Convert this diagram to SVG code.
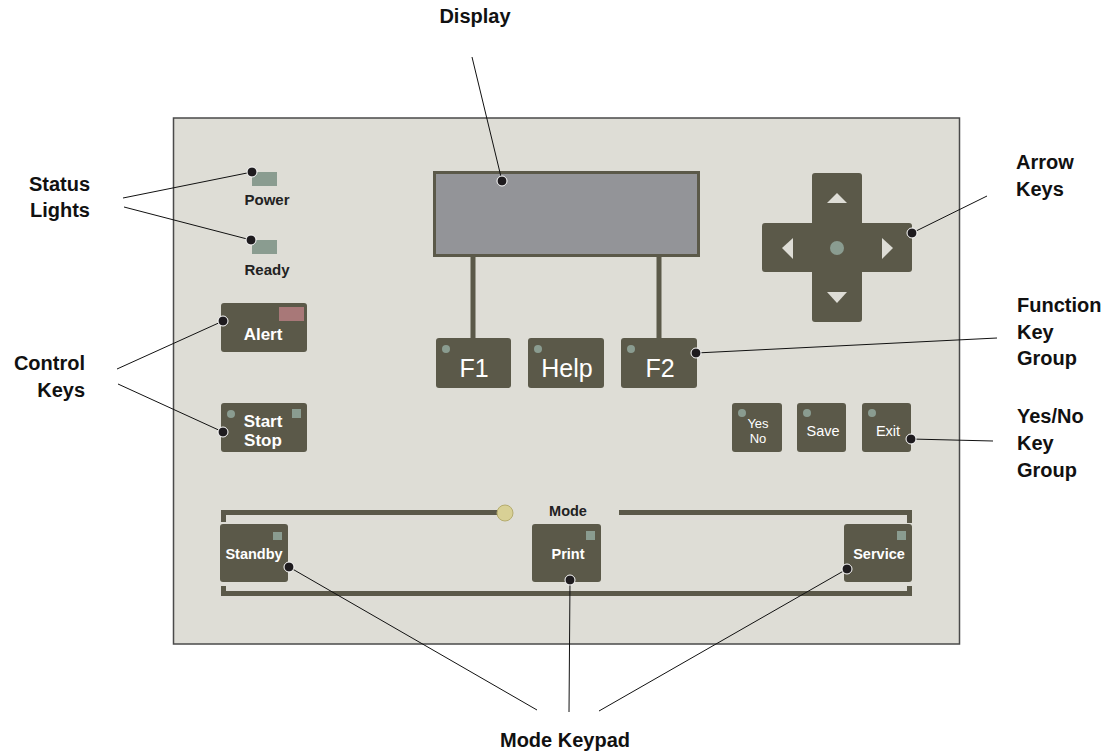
<svg xmlns="http://www.w3.org/2000/svg" width="1113" height="754" viewBox="0 0 1113 754">
<defs>
<style>
.lbl{font-family:"Liberation Sans",Arial,sans-serif;font-weight:bold;font-size:20px;fill:#111}
.key{fill:#5B5949}
.kt{font-family:"Liberation Sans",Arial,sans-serif;fill:#fff;text-anchor:middle}
.b{font-weight:bold}
.led{fill:#8A9C90}
.bar{fill:none;stroke:#5B5949;stroke-width:5}
.lead{fill:none;stroke:#111;stroke-width:1}
.dot{fill:#1E1B1E;stroke:#fff;stroke-width:1}
.pt{font-family:"Liberation Sans",Arial,sans-serif;font-weight:bold;fill:#222;text-anchor:middle}
</style>
</defs>
<rect width="1113" height="754" fill="#fff"/>
<g id="panel">
<rect x="173.5" y="118" width="786" height="526" fill="#DEDDD6" stroke="#4A4A4A" stroke-width="1.5"/>
</g>
<g id="status-lights">
<rect class="led" x="252" y="172" width="25" height="14"/>
<text class="pt" x="267" y="205" font-size="15">Power</text>
<rect class="led" x="252" y="240" width="25" height="14"/>
<text class="pt" x="267" y="275" font-size="15">Ready</text>
</g>
<g id="alert-key">
<rect class="key" x="221" y="303" width="86" height="49" rx="3"/>
<rect x="279" y="307" width="25" height="14" fill="#A87878"/>
<text class="kt b" x="263" y="340" font-size="17">Alert</text>
</g>
<g id="start-stop-key">
<rect class="key" x="221" y="403" width="86" height="49" rx="3"/>
<circle class="led" cx="231" cy="414" r="4"/>
<rect class="led" x="292" y="409" width="9" height="9"/>
<text class="kt b" x="263" y="427" font-size="17">Start</text>
<text class="kt b" x="263" y="446" font-size="17">Stop</text>
</g>
<g id="display">
<rect x="434.5" y="172.5" width="264" height="83" fill="#939498" stroke="#5B5949" stroke-width="3"/>
<line x1="473" y1="256" x2="473" y2="340" stroke="#5B5949" stroke-width="5"/>
<line x1="659" y1="256" x2="659" y2="340" stroke="#5B5949" stroke-width="5"/>
</g>
<g id="function-keys">
<rect class="key" x="436" y="338" width="75" height="50" rx="3"/>
<circle class="led" cx="446" cy="349" r="4"/>
<text class="kt" x="474" y="377" font-size="25">F1</text>
<rect class="key" x="528" y="338" width="76" height="50" rx="3"/>
<circle class="led" cx="538" cy="349" r="4"/>
<text class="kt" x="567" y="377" font-size="25">Help</text>
<rect class="key" x="621" y="338" width="76" height="50" rx="3"/>
<circle class="led" cx="631" cy="349" r="4"/>
<text class="kt" x="660" y="377" font-size="25">F2</text>
</g>
<g id="arrow-keys">
<rect class="key" x="812" y="173" width="50" height="149" rx="3"/>
<rect class="key" x="762" y="223" width="150" height="49" rx="3"/>
<circle class="led" cx="837" cy="248" r="7"/>
<polygon points="837,193 827,203 847,203" fill="#DEDDD6"/>
<polygon points="837,303 827,292 847,292" fill="#DEDDD6"/>
<polygon points="782,248 793,238 793,259" fill="#DEDDD6"/>
<polygon points="893,248 882,238 882,259" fill="#DEDDD6"/>
</g>
<g id="yes-no-keys">
<rect class="key" x="732" y="403" width="50" height="49" rx="3"/>
<circle class="led" cx="742" cy="413" r="4"/>
<text class="kt" x="758" y="428" font-size="13">Yes</text>
<text class="kt" x="758" y="443" font-size="13">No</text>
<rect class="key" x="797" y="403" width="49" height="49" rx="3"/>
<circle class="led" cx="807" cy="413" r="4"/>
<text class="kt" x="823" y="436" font-size="14.5">Save</text>
<rect class="key" x="862" y="403" width="49" height="49" rx="3"/>
<circle class="led" cx="872" cy="413" r="4"/>
<text class="kt" x="888" y="436" font-size="14.5">Exit</text>
</g>
<g id="mode-keypad">
<path class="bar" d="M223.5,522 V512.5 H500"/>
<path class="bar" d="M619,512.5 H909.5 V523"/>
<path class="bar" d="M223.5,586 V593.5 H909.5 V586"/>
<circle cx="505" cy="513" r="8" fill="#D8D095" stroke="#B5AC6E" stroke-width="1"/>
<text class="pt" x="568" y="516" font-size="14.5">Mode</text>
<rect class="key" x="220" y="524" width="68" height="58" rx="3"/>
<rect class="led" x="273" y="532" width="9" height="8"/>
<text class="kt b" x="254" y="559" font-size="14.5">Standby</text>
<rect class="key" x="532" y="524" width="69" height="58" rx="3"/>
<rect class="led" x="586" y="531" width="9" height="9"/>
<text class="kt b" x="568" y="559" font-size="14.5">Print</text>
<rect class="key" x="844" y="524" width="68" height="58" rx="3"/>
<rect class="led" x="897" y="531" width="9" height="9"/>
<text class="kt b" x="879" y="559" font-size="14.5">Service</text>
</g>
<g id="labels">
<text class="lbl" x="475" y="23" text-anchor="middle">Display</text>
<text class="lbl" x="90" y="191" text-anchor="end">Status</text>
<text class="lbl" x="90" y="217" text-anchor="end">Lights</text>
<text class="lbl" x="85" y="370" text-anchor="end">Control</text>
<text class="lbl" x="85" y="397" text-anchor="end">Keys</text>
<text class="lbl" x="1016" y="169">Arrow</text>
<text class="lbl" x="1016" y="196">Keys</text>
<text class="lbl" x="1017" y="312">Function</text>
<text class="lbl" x="1017" y="339">Key</text>
<text class="lbl" x="1017" y="365">Group</text>
<text class="lbl" x="1017" y="423">Yes/No</text>
<text class="lbl" x="1017" y="450">Key</text>
<text class="lbl" x="1017" y="477">Group</text>
<text class="lbl" x="565" y="747" text-anchor="middle">Mode Keypad</text>
</g>
<g id="connectors">
<line class="lead" x1="472" y1="57" x2="502" y2="181"/>
<line class="lead" x1="123" y1="198" x2="252" y2="172"/>
<line class="lead" x1="124" y1="207" x2="251" y2="240"/>
<line class="lead" x1="117" y1="369" x2="223" y2="321"/>
<line class="lead" x1="118" y1="384" x2="223" y2="432"/>
<line class="lead" x1="987" y1="196" x2="912" y2="233"/>
<line class="lead" x1="997" y1="338" x2="696" y2="353"/>
<line class="lead" x1="993" y1="441" x2="911" y2="439"/>
<line class="lead" x1="537" y1="710" x2="289" y2="567"/>
<line class="lead" x1="569" y1="712" x2="570" y2="580"/>
<line class="lead" x1="599" y1="711" x2="847" y2="569"/>
<circle class="dot" cx="502" cy="181" r="5"/>
<circle class="dot" cx="252" cy="172" r="5"/>
<circle class="dot" cx="251" cy="240" r="5"/>
<circle class="dot" cx="223" cy="321" r="5"/>
<circle class="dot" cx="223" cy="432" r="5"/>
<circle class="dot" cx="912" cy="233" r="5"/>
<circle class="dot" cx="696" cy="353" r="5"/>
<circle class="dot" cx="911" cy="439" r="5"/>
<circle class="dot" cx="289" cy="567" r="5"/>
<circle class="dot" cx="570" cy="580" r="5"/>
<circle class="dot" cx="847" cy="569" r="5"/>
</g>
</svg>
